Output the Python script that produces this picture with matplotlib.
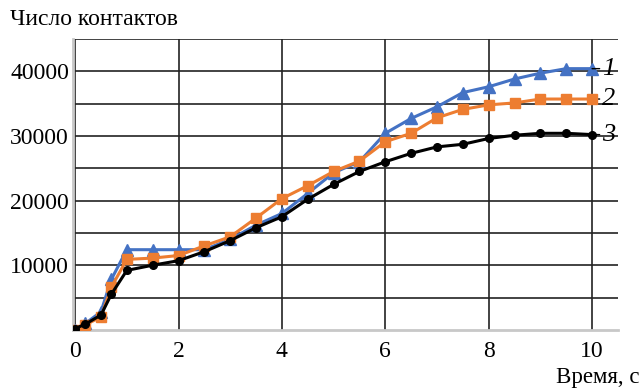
import matplotlib.pyplot as plt

plt.rcParams['font.family'] = ['Liberation Serif', 'DejaVu Serif']

# время, с
t = [0, 0.2, 0.5, 0.7, 1.0, 1.5, 2.0, 2.5, 3.0, 3.5, 4.0, 4.5, 5.0, 5.5,
     6.0, 6.5, 7.0, 7.5, 8.0, 8.5, 9.0, 9.5, 10.0]

# кривая 1 (синие треугольники)
n1 = [0, 1000, 2800, 7800, 12400, 12400, 12400, 12400, 14000, 16200, 18000,
      21100, 24300, 26000, 30400, 32700, 34500, 36700, 37600, 38800, 39700,
      40400, 40400]
# кривая 2 (оранжевые квадраты)
n2 = [0, 800, 2000, 6600, 10900, 11100, 11500, 13000, 14400, 17300, 20300,
      22300, 24500, 26100, 29100, 30400, 32800, 34100, 34800, 35100, 35700,
      35700, 35700]
# кривая 3 (чёрные точки)
n3 = [200, 900, 2300, 5500, 9200, 10000, 10700, 12100, 13800, 15800, 17500,
      20200, 22500, 24500, 26000, 27300, 28300, 28700, 29600, 30100, 30400,
      30400, 30200]

labels = ['1', '2', '3']

fig = plt.figure(figsize=(6.41, 3.89), dpi=100)
ax = fig.add_axes([0.114, 0.152, 0.85, 0.748])

ax.plot(t, n1, color='#4472C4', lw=2.2, marker='^', ms=8, zorder=3)
ax.plot(t, n2, color='#ED7D31', lw=2.2, marker='s', ms=7, zorder=4)
ax.plot(t, n3, color='black', lw=2.2, marker='o', ms=5.5, zorder=5)

# подписи кривых справа
for lab, ser in zip(labels, [n1, n2, n3]):
  ax.annotate(lab, xy=(t[-1], ser[-1]), xytext=(t[-1] + 0.2, ser[-1]),
              fontsize=19, style='italic', va='center', ha='left',
              arrowprops=dict(arrowstyle='-', color='black', lw=1,
                              shrinkA=0, shrinkB=0),
              annotation_clip=False)

ax.set_xlim(-0.04, 10.5)
ax.set_ylim(0, 45000)
ax.set_xticks([0, 2, 4, 6, 8, 10])
ax.set_yticks([10000, 20000, 30000, 40000])
ax.set_yticks([5000, 15000, 25000, 35000, 45000], minor=True)
ax.grid(True, which='both', axis='y', color='#222222', lw=1.2)
ax.grid(True, which='major', axis='x', color='#222222', lw=1.2)
ax.set_axisbelow(True)

for s in ['top', 'right']:
  ax.spines[s].set_visible(False)
for s in ['left', 'bottom']:
  ax.spines[s].set_color('#c8c8c8')
  ax.spines[s].set_linewidth(2)

ax.tick_params(which='both', length=0, labelsize=17)
ax.tick_params(axis='y', pad=3)
ax.tick_params(axis='x', pad=8)

fig.text(0.015, 0.95, 'Число контактов', fontsize=17, va='center', ha='left')
fig.text(0.998, 0.03, 'Время, с', fontsize=16.5, va='center', ha='right')

fig.savefig('out.png', dpi=100)
